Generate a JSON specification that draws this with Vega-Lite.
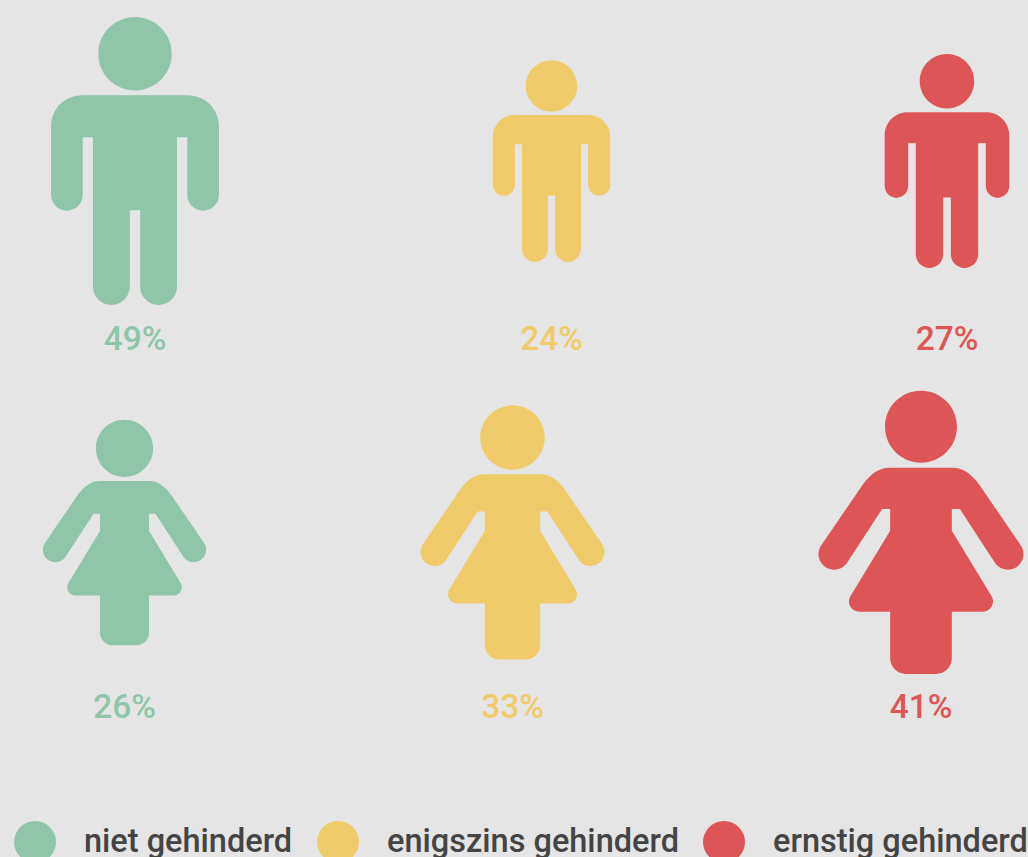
{"$schema":"https://vega.github.io/schema/vega-lite/v6.json","width":1028,"height":857,"padding":0,"autosize":{"type":"none"},"background":"#E5E5E5","view":{"stroke":null,"fill":null},
"data":{"values":[
{"gender":"man","level":"niet gehinderd","percent":49,"label":"49%","slot":0},
{"gender":"man","level":"enigszins gehinderd","percent":24,"label":"24%","slot":1},
{"gender":"man","level":"ernstig gehinderd","percent":27,"label":"27%","slot":2},
{"gender":"vrouw","level":"niet gehinderd","percent":26,"label":"26%","slot":3},
{"gender":"vrouw","level":"enigszins gehinderd","percent":33,"label":"33%","slot":4},
{"gender":"vrouw","level":"ernstig gehinderd","percent":41,"label":"41%","slot":5}
]},
"encoding":{
"x":{"field":"slot","type":"quantitative","axis":null,"scale":{"type":"linear","domain":[0,1,2,3,4,5],"range":[135,551.5,947,124.5,512.5,921],"nice":false,"zero":false}},
"y":{"field":"gender","type":"nominal","axis":null,"scale":{"type":"point","domain":["man","vrouw"],"range":[161,532.5],"padding":0}},
"color":{"field":"level","type":"nominal","scale":{"domain":["niet gehinderd","enigszins gehinderd","ernstig gehinderd"],"range":["#8FC5A9","#F0CB69","#DD5557"]},
"legend":{"title":null,"orient":"none","legendX":14,"legendY":821,"direction":"horizontal","columns":3,"gridAlign":"none","symbolType":"circle","symbolSize":1764,"symbolStrokeWidth":0,"symbolOpacity":1,"labelFont":"Roboto","labelFontSize":32.5,"labelFontWeight":500,"labelColor":"#444444","labelOffset":28,"columnPadding":24,"padding":0,"labelLimit":400}}
},
"layer":[
{"mark":{"type":"point","filled":true,"opacity":1,"strokeWidth":0},
"encoding":{
"size":{"field":"percent","type":"quantitative","legend":null,"scale":{"type":"linear","domain":[0,49],"range":[0,82944],"zero":true}},
"shape":{"field":"gender","type":"nominal","legend":null,"scale":{"domain":["man","vrouw"],"range":[
"M0 -1 A0.255 0.255 0 1 1 0 -0.49 A0.255 0.255 0 1 1 0 -1 Z M-0.368 -0.456 H0.368 A0.215 0.215 0 0 1 0.583 -0.241 V0.235 A0.11 0.11 0 0 1 0.363 0.235 V-0.165 H0.292 V0.872 A0.128 0.128 0 0 1 0.036 0.872 V0.342 H-0.036 V0.872 A0.128 0.128 0 0 1 -0.292 0.872 V-0.165 H-0.363 V0.235 A0.11 0.11 0 0 1 -0.583 0.235 V-0.241 A0.215 0.215 0 0 1 -0.368 -0.456 Z",
"M0 -1.076 A0.273 0.273 0 1 1 0 -0.53 A0.273 0.273 0 1 1 0 -1.076 Z M-0.24 -0.492 H0.24 Q0.352 -0.492 0.444 -0.361 L0.762 0.104 A0.119 0.119 0 0 1 0.566 0.238 L0.295 -0.178 H0.234 V-0.014 L0.535 0.482 A0.078 0.078 0 0 1 0.468 0.601 H0.234 V0.955 A0.119 0.119 0 0 1 0.115 1.074 H-0.115 A0.119 0.119 0 0 1 -0.234 0.955 V0.601 H-0.468 A0.078 0.078 0 0 1 -0.535 0.482 L-0.234 -0.014 V-0.178 H-0.295 L-0.566 0.238 A0.119 0.119 0 0 1 -0.762 0.104 L-0.444 -0.361 Q-0.352 -0.492 -0.24 -0.492 Z"
]}}
}},
{"transform":[{"filter":"datum.gender === 'man'"}],"mark":{"type":"text","font":"Roboto","fontSize":33.5,"fontWeight":500,"baseline":"middle","align":"center","dy":178.5},"encoding":{"text":{"field":"label","type":"nominal"},"detail":{"field":"slot"}}},
{"transform":[{"filter":"datum.gender === 'vrouw'"}],"mark":{"type":"text","font":"Roboto","fontSize":33.5,"fontWeight":500,"baseline":"middle","align":"center","dy":175.5},"encoding":{"text":{"field":"label","type":"nominal"},"detail":{"field":"slot"}}}
]}
